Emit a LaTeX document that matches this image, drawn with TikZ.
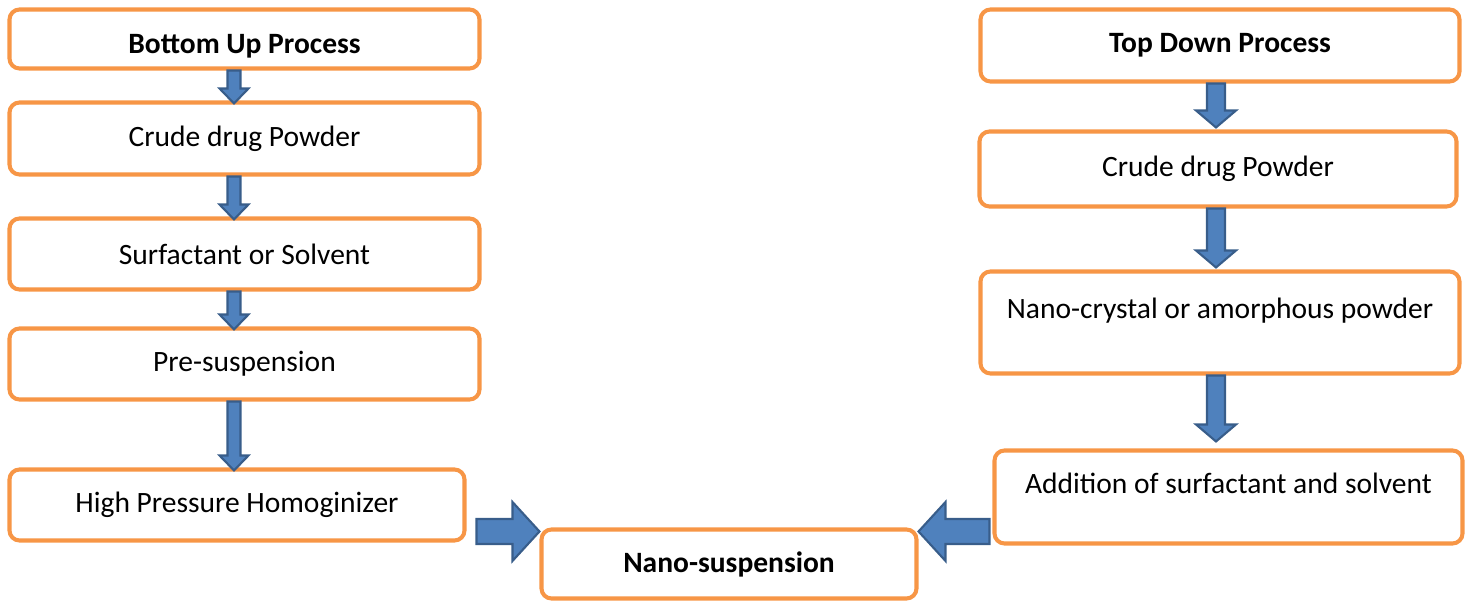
\documentclass[tikz,border=0pt]{standalone}
\usepackage{fontspec}
\setmainfont{Carlito}
\usepackage{tikz}
\usetikzlibrary{calc}

\definecolor{boxorange}{HTML}{F79646}
\definecolor{arrowfill}{HTML}{4F81BD}
\definecolor{arrowedge}{HTML}{385D8A}

\begin{document}
\begin{tikzpicture}[
        font=\fontsize{16.8}{20}\selectfont,
        % Styles
        stage/.style={rectangle, rounded corners=0.2cm, draw=boxorange, line width=2.3pt, fill=white, align=center},
        headline/.style={stage, font=\fontsize{16.8}{20}\selectfont\bfseries},
        % block arrow: half shaft / half head / head length
        blockarrow/.style args={#1/#2/#3}{draw=arrowedge, fill=arrowfill, line width=1.2pt, line join=miter,
            to path={let \p1=(\tikztostart), \p2=(\tikztotarget),
                \n1={atan2(\y2-\y1,\x2-\x1)}, \n2={veclen(\x2-\x1,\y2-\y1)} in
                ([shift={(\p1)},rotate=\n1]0,{-#1}) -- ([shift={(\p1)},rotate=\n1]{\n2*1pt-#3},{-#1})
                -- ([shift={(\p1)},rotate=\n1]{\n2*1pt-#3},{-#2}) -- ([shift={(\p1)},rotate=\n1]{\n2*1pt},0)
                -- ([shift={(\p1)},rotate=\n1]{\n2*1pt-#3},{#2}) -- ([shift={(\p1)},rotate=\n1]{\n2*1pt-#3},{#1})
                -- ([shift={(\p1)},rotate=\n1]0,{#1}) -- cycle}},
        smallarrow/.style={blockarrow=0.13cm/0.29cm/0.3cm},
        widearrow/.style={blockarrow=0.18cm/0.4cm/0.34cm},
        bigarrow/.style={blockarrow=0.25cm/0.59cm/0.54cm}
    ]
    \useasboundingbox (0,0) rectangle (29.44,-12.02);

    % ================= BOTTOM UP =================
    \node[headline, text height=0.58cm, text depth=0pt, minimum width=9.4cm, minimum height=1.18cm] (up) at (4.89,-0.78) {Bottom Up Process};
    \node[stage, minimum width=9.4cm, minimum height=1.44cm] (upcrude) at (4.89,-2.77) {Crude drug Powder};
    \node[stage, minimum width=9.4cm, minimum height=1.42cm] (upsolv) at (4.89,-5.08) {Surfactant or Solvent};
    \node[stage, minimum width=9.4cm, minimum height=1.42cm] (uppre) at (4.89,-7.28) {Pre-suspension};
    \node[stage, minimum width=9.1cm, minimum height=1.42cm] (uphom) at (4.74,-10.10) {High Pressure Homoginizer};

    % ================= TOP DOWN =================
    \node[headline, minimum width=9.58cm, minimum height=1.44cm] (down) at (24.4,-0.91) {Top Down Process};
    \node[stage, minimum width=9.54cm, minimum height=1.5cm] (downcrude) at (24.36,-3.38) {Crude drug Powder};
    \node[stage, minimum width=9.58cm, minimum height=2.04cm] (downnano) at (24.4,-6.45) {Nano-crystal or amorphous powder\\[-10pt]\strut};
    \node[stage, minimum width=9.36cm, minimum height=1.86cm] (downadd) at (24.57,-9.94) {Addition of surfactant and solvent\\[-10pt]\strut};

    % ================= RESULT =================
    \node[headline, minimum width=7.5cm, minimum height=1.38cm] (nano) at (14.58,-11.28) {Nano-suspension};
    \coordinate (inL) at ([yshift=-0.08cm]nano.north west);
    \coordinate (inR) at ([yshift=-0.08cm]nano.north east);

    % ================= ARROWS =================
    \draw[smallarrow] ([xshift=-0.21cm]up.south) to ([xshift=-0.21cm,yshift=-0.06cm]upcrude.north);
    \draw[smallarrow] ([xshift=-0.21cm]upcrude.south) to ([xshift=-0.21cm,yshift=-0.06cm]upsolv.north);
    \draw[smallarrow] ([xshift=-0.21cm]upsolv.south) to ([xshift=-0.21cm,yshift=-0.06cm]uppre.north);
    \draw[smallarrow] ([xshift=-0.21cm]uppre.south) to ([xshift=-0.06cm,yshift=-0.06cm]uphom.north);

    \draw[widearrow] ([xshift=-0.08cm]down.south) to ([xshift=-0.04cm,yshift=0.04cm]downcrude.north);
    \draw[widearrow] ([xshift=-0.04cm]downcrude.south) to ([xshift=-0.08cm,yshift=0.04cm]downnano.north);
    \draw[widearrow] ([xshift=-0.08cm]downnano.south) to ([xshift=-0.25cm,yshift=0.14cm]downadd.north);

    \draw[bigarrow] ([xshift=0.2cm]uphom.east |- inL) to (inL);
    \draw[bigarrow] ([xshift=-0.06cm]downadd.west |- inR) to (inR);

\end{tikzpicture}
\end{document}
